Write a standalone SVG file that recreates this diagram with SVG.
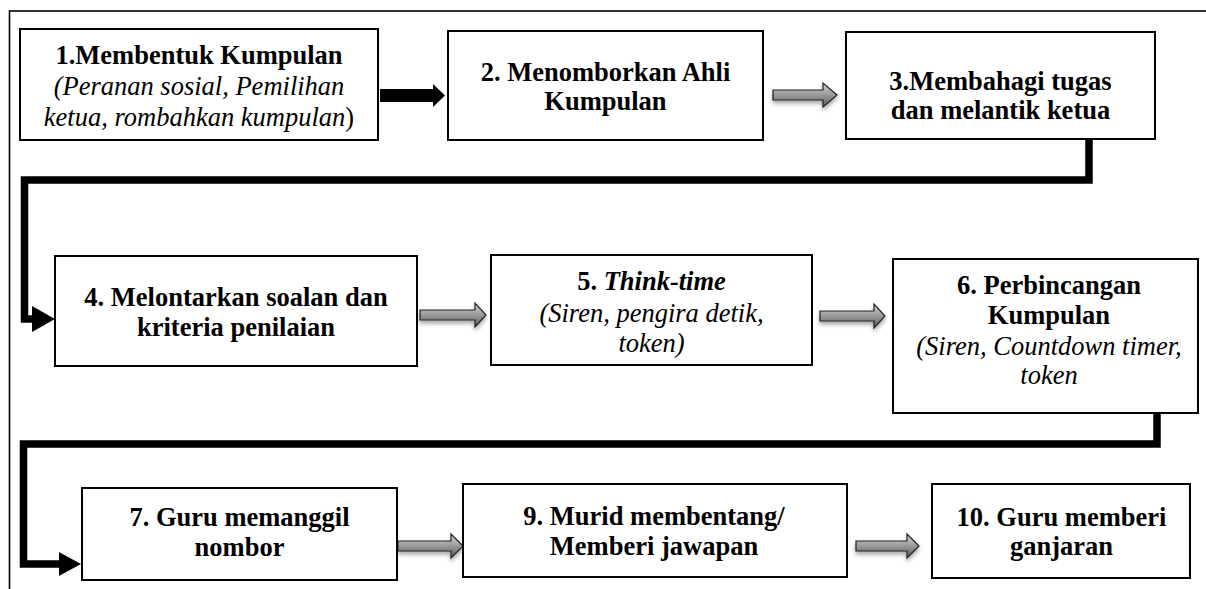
<svg xmlns="http://www.w3.org/2000/svg" width="1206" height="589" viewBox="0 0 1206 589">
<style>
.box{fill:#fff;stroke:#000;stroke-width:2}
.t{font-size:26.5px;text-anchor:middle;fill:#000}
.b{font-weight:bold}
.i{font-style:italic}
.conn{fill:none;stroke:#000;stroke-width:7.5;stroke-linejoin:miter}
.ga{fill:url(#gg);stroke:#222;stroke-width:1.2;filter:url(#sh)}
</style>
<defs>
<linearGradient id="gg" x1="0" y1="0" x2="0" y2="1">
<stop offset="0" stop-color="#d0d0d0"/>
<stop offset="0.5" stop-color="#9a9a9a"/>
<stop offset="1" stop-color="#5a5a5a"/>
</linearGradient>
<filter id="sh" x="-20%" y="-50%" width="140%" height="220%">
<feDropShadow dx="0" dy="3" stdDeviation="2" flood-color="#000" flood-opacity="0.35"/>
</filter>
<clipPath id="c1"><rect x="21" y="30" width="356" height="102"/></clipPath>
</defs>
<rect x="9.5" y="11" width="1300" height="700" fill="none" stroke="#000" stroke-width="1.6"/>
<g id="connectors">
<path d="M380 89 H433 V84 L445 95.5 L433 107 V102 H380 Z" fill="#000"/>
<path class="ga" d="M773 90 H823 V83 L837 95 L823 107 V100 H773 Z"/>
<path class="conn" d="M1089 139 V180 H24.5 V319 H34"/>
<path d="M32 306 L55 319 L32 332 Z" fill="#000"/>
<path class="ga" d="M420 310 H475 V303 L486 315 L475 327 V320 H420 Z"/>
<path class="ga" d="M820 311 H874 V304 L885 316 L874 328 V321 H820 Z"/>
<path class="conn" d="M1157 413 V444 H23.5 V564 H61"/>
<path d="M59 552 L81 564 L59 576 Z" fill="#000"/>
<path class="ga" d="M398 541 H451 V534 L463 546 L451 558 V551 H398 Z"/>
<path class="ga" d="M856 541 H907 V534 L919 546 L907 558 V551 H856 Z"/>
</g>
<g font-family="Liberation Serif, Times New Roman, DejaVu Serif, serif">
<g id="n1">
<rect class="box" x="20" y="29" width="358" height="111"/>
<text class="t b" x="199" y="64">1.Membentuk Kumpulan</text>
<g clip-path="url(#c1)">
<text class="t i" x="199" y="95">(Peranan sosial, Pemilihan</text>
<text class="t i" x="199" y="126">ketua, rombahkan kumpulan<tspan font-style="normal">)</tspan></text>
</g>
</g>
<g id="n2">
<rect class="box" x="448" y="31" width="315" height="109"/>
<text class="t b" x="605.5" y="81">2. Menomborkan Ahli</text>
<text class="t b" x="605.5" y="110">Kumpulan</text>
</g>
<g id="n3">
<rect class="box" x="846" y="32" width="309" height="107"/>
<text class="t b" x="1000.5" y="90">3.Membahagi tugas</text>
<text class="t b" x="1000.5" y="119">dan melantik ketua</text>
</g>
<g id="n4">
<rect class="box" x="55" y="256" width="362" height="110"/>
<text class="t b" x="236" y="305.5">4. Melontarkan soalan dan</text>
<text class="t b" x="236" y="335.5">kriteria penilaian</text>
</g>
<g id="n5">
<rect class="box" x="491" y="255" width="321" height="110"/>
<text class="t b" x="651.5" y="290">5. <tspan class="i">Think-time</tspan></text>
<text class="t i" x="651.5" y="321.5">(Siren, pengira detik,</text>
<text class="t i" x="651.5" y="352">token)</text>
</g>
<g id="n6">
<rect class="box" x="893" y="259" width="305" height="154"/>
<text class="t b" x="1049" y="294">6. Perbincangan</text>
<text class="t b" x="1049" y="324">Kumpulan</text>
<text class="t i" x="1049" y="354.5">(Siren, Countdown timer,</text>
<text class="t i" x="1049" y="384">token</text>
</g>
<g id="n7">
<rect class="box" x="82" y="488" width="315" height="92"/>
<text class="t b" x="239.5" y="526">7. Guru memanggil</text>
<text class="t b" x="239.5" y="556">nombor</text>
</g>
<g id="n9">
<rect class="box" x="463" y="484" width="384" height="93"/>
<text class="t b" x="654" y="525">9. Murid membentang/</text>
<text class="t b" x="654" y="555">Memberi jawapan</text>
</g>
<g id="n10">
<rect class="box" x="932" y="484" width="258" height="94"/>
<text class="t b" x="1061.5" y="526">10. Guru memberi</text>
<text class="t b" x="1061.5" y="555">ganjaran</text>
</g>
</g>
</svg>
